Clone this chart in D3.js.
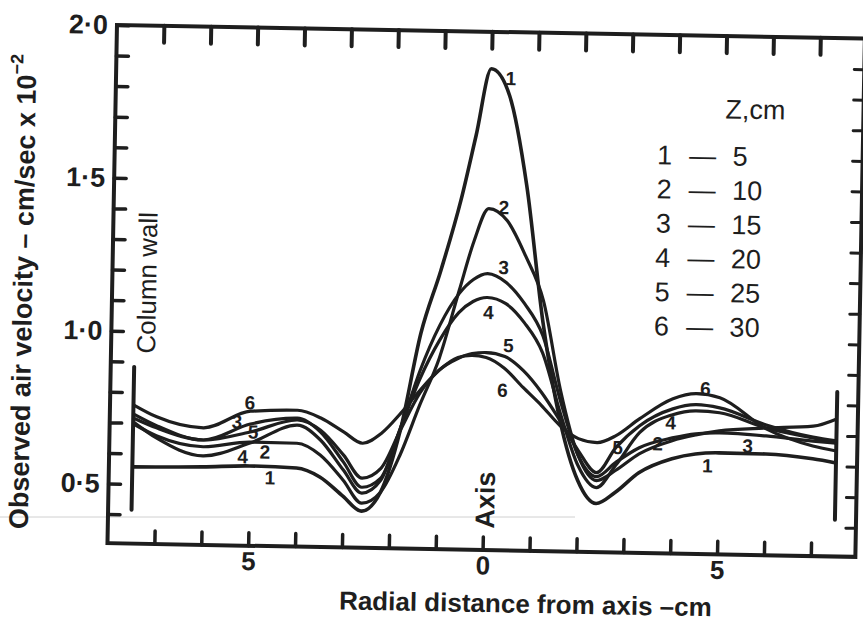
<!DOCTYPE html>
<html><head><meta charset="utf-8">
<script src="https://cdn.jsdelivr.net/npm/d3@7"></script>
<style>
html,body{margin:0;padding:0;background:#ffffff;}
svg{display:block;}
text{font-family:"Liberation Sans", Arial, sans-serif; fill:#1e1e1e;}
</style></head><body>
<svg id="chart" width="863" height="628"></svg>
<script>
// ---------- data ----------
const radialX = [-7.5,-7,-6,-5,-4,-3.5,-3,-2.6,-2.2,-1.8,-1.4,-1.0,-0.6,-0.3,0,0.4,0.8,1.2,1.6,2.0,2.4,2.8,3.3,4.0,4.5,5.0,6.0,7.0,7.5];
const seriesId = [1,2,3,4,5,6];
const seriesZ  = [5,10,15,20,25,30];
const vel1 = [0.556,0.557,0.560,0.566,0.562,0.534,0.473,0.425,0.488,0.692,1.010,1.216,1.446,1.660,1.879,1.792,1.499,1.052,0.733,0.538,0.464,0.501,0.567,0.615,0.632,0.637,0.636,0.623,0.611];
const vel2 = [0.697,0.659,0.626,0.644,0.643,0.606,0.525,0.451,0.488,0.610,0.774,0.929,1.152,1.316,1.422,1.383,1.270,1.124,0.831,0.620,0.539,0.573,0.629,0.674,0.694,0.709,0.721,0.730,0.755];
const vel3 = [0.729,0.692,0.648,0.703,0.725,0.681,0.584,0.503,0.534,0.698,0.889,1.037,1.142,1.189,1.209,1.181,1.113,1.010,0.798,0.620,0.552,0.599,0.649,0.683,0.698,0.702,0.695,0.681,0.676];
const vel4 = [0.703,0.652,0.596,0.641,0.702,0.655,0.558,0.484,0.527,0.698,0.862,0.988,1.080,1.117,1.131,1.112,1.051,0.954,0.759,0.587,0.516,0.589,0.698,0.759,0.773,0.768,0.721,0.691,0.676];
const vel5 = [0.716,0.685,0.648,0.677,0.719,0.687,0.607,0.533,0.566,0.692,0.814,0.890,0.930,0.947,0.951,0.939,0.894,0.823,0.733,0.636,0.565,0.648,0.721,0.778,0.793,0.784,0.731,0.694,0.683];
const vel6 = [0.759,0.721,0.688,0.745,0.751,0.727,0.682,0.647,0.681,0.747,0.823,0.890,0.933,0.941,0.935,0.900,0.839,0.781,0.717,0.675,0.663,0.687,0.744,0.811,0.829,0.817,0.718,0.665,0.650];
const allSeries = [vel1,vel2,vel3,vel4,vel5,vel6];

const yTickValues = [0.4,0.5,0.6,0.7,0.8,0.9,1.0,1.1,1.2,1.3,1.4,1.5,1.6,1.7,1.8,1.9,2.0];
const yLabelValues = [0.5,1.0,1.5,2.0];
const xTickValues = [-7,-6,-5,-4,-3,-2,-1,0,1,2,3,4,5,6,7];
const xLabelValues = [-5,0,5];

// curve number annotations (data coords)
const annNum = [1,2,3,4,5,6, 6,3,5,4,2,1, 5,2,4,6,1,3];
const annX   = [0.42,0.32,0.34,0.03,0.47,0.36, -5.02,-5.29,-4.94,-5.15,-4.68,-4.56, 2.84,3.69,3.96,4.69,4.76,5.61];
const annY   = [1.848,1.426,1.230,1.082,0.975,0.828, 0.772,0.709,0.677,0.595,0.612,0.528, 0.648,0.663,0.732,0.845,0.594,0.661];

// column walls
const wallX = [-7.5, 7.5];
const wallTop = [0.883, 0.843];
const wallBottom = [0.416, 0.425];

// ---------- drawing ----------
const ink = "#1e1e1e";
const svg = d3.select("#chart");
svg.append("rect").attr("width",863).attr("height",628).attr("fill","#ffffff");

// faint scan line artefact
svg.append("line").attr("x1",0).attr("x2",575).attr("y1",517).attr("y2",517)
   .attr("stroke","#d0d0d0").attr("stroke-width",1);

const g = svg.append("g").attr("transform","rotate(1.05,483,300)");

const x = d3.scaleLinear().domain([-8,7.95]).range([112,860]);
const y = d3.scaleLinear().domain([0.305,2.0]).range([550,31.7]);

// frame
g.append("rect").attr("x",x(-8)).attr("y",y(2.0))
  .attr("width",x(7.95)-x(-8)).attr("height",y(0.305)-y(2.0))
  .attr("fill","none").attr("stroke",ink).attr("stroke-width",4);

function styleAxis(sel, tickW){
  sel.select(".domain").remove();
  sel.selectAll(".tick line").attr("stroke",ink).attr("stroke-width",tickW).attr("stroke-linecap","round");
}

// left axis
const yFmt = d => yLabelValues.some(v=>Math.abs(v-d)<1e-6) ? d3.format(".1f")(d).replace(".","·") : "";
const gl = g.append("g").attr("transform",`translate(${x(-8)},0)`)
  .call(d3.axisLeft(y).tickValues(yTickValues).tickSizeInner(-12).tickSizeOuter(0).tickPadding(9).tickFormat(yFmt));
styleAxis(gl,3.5);
gl.selectAll(".tick text").attr("font-size",27).attr("font-weight","bold").attr("fill",ink);

// right axis
const gr = g.append("g").attr("transform",`translate(${x(7.95)},0)`)
  .call(d3.axisRight(y).tickValues(yTickValues.filter(v=>v<1.95)).tickSizeInner(-10).tickSizeOuter(0).tickFormat(""));
styleAxis(gr,3);

// bottom axis
const gb = g.append("g").attr("transform",`translate(0,${y(0.305)})`)
  .call(d3.axisBottom(x).tickValues(xTickValues).tickSizeInner(-13).tickSizeOuter(0).tickPadding(6)
        .tickFormat(d => xLabelValues.includes(d) ? String(Math.abs(d)) : ""));
styleAxis(gb,3.5);
gb.selectAll(".tick text").attr("font-size",26).attr("font-weight","bold").attr("fill",ink);

// top axis
const gt = g.append("g").attr("transform",`translate(0,${y(2.0)})`)
  .call(d3.axisTop(x).tickValues(xTickValues).tickSizeInner(-17).tickSizeOuter(0).tickFormat(""));
styleAxis(gt,4);

// column walls
wallX.forEach((wx,i)=>{
  g.append("line").attr("x1",x(wx)).attr("x2",x(wx)).attr("y1",y(wallTop[i])).attr("y2",y(wallBottom[i]))
   .attr("stroke",ink).attr("stroke-width",4).attr("stroke-linecap","round");
});

// curves
const line = d3.line().x((d,i)=>x(radialX[i])).y(d=>y(d)).curve(d3.curveMonotoneX);
allSeries.forEach((s,k)=>{
  g.append("path").attr("d",line(s)).attr("fill","none").attr("stroke",ink)
   .attr("stroke-width", k===0 ? 3.6 : 3.2).attr("stroke-linejoin","round");
});

// curve number labels
annNum.forEach((n,i)=>{
  g.append("text").attr("x",x(annX[i])).attr("y",y(annY[i]))
   .attr("text-anchor","middle").attr("dominant-baseline","central")
   .attr("font-size",19).attr("font-weight","bold").text(n);
});

// text annotations
g.append("text").attr("transform","translate(147,289) rotate(-90)")
  .attr("text-anchor","middle").attr("dominant-baseline","central")
  .attr("font-size",26).text("Column wall");
g.append("text").attr("transform",`translate(${x(0)+2},500) rotate(-90)`)
  .attr("text-anchor","middle").attr("dominant-baseline","central")
  .attr("font-size",27).attr("font-weight","bold").text("Axis");

// legend
g.append("text").attr("x",752).attr("y",105).attr("text-anchor","middle").attr("dominant-baseline","central")
  .attr("font-size",27).text("Z,cm");
seriesId.forEach((id,i)=>{
  const cy = 152 + i*34.2;
  g.append("text").attr("x",662).attr("y",cy).attr("text-anchor","middle").attr("dominant-baseline","central")
    .attr("font-size",27).text(id);
  g.append("text").attr("x",700).attr("y",cy).attr("text-anchor","middle").attr("dominant-baseline","central")
    .attr("font-size",27).text("—");
  g.append("text").attr("x",730).attr("y",cy).attr("text-anchor","start").attr("dominant-baseline","central")
    .attr("font-size",27).text(seriesZ[i]);
});

// axis titles
g.append("text").attr("x",531).attr("y",603).attr("text-anchor","middle").attr("dominant-baseline","central")
  .attr("font-size",26).attr("font-weight","bold").text("Radial distance from axis –cm");
const yt = g.append("text").attr("transform","translate(23,300) rotate(-90)")
  .attr("text-anchor","middle").attr("dominant-baseline","central")
  .attr("font-size",27).attr("font-weight","bold");
yt.append("tspan").text("Observed air velocity – cm/sec x 10");
yt.append("tspan").attr("font-size",18).attr("dy",-10).text("−2");
</script>
</body></html>
